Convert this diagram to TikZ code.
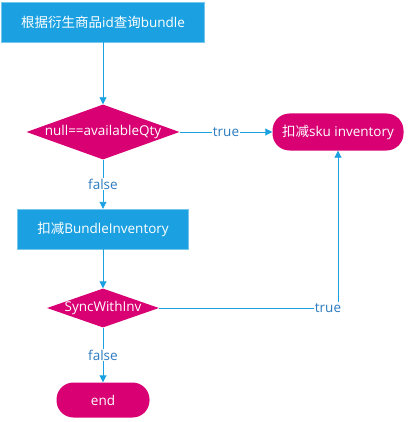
\documentclass[tikz,border=0pt]{standalone}
\usepackage{fontspec}
\setmainfont{Open Sans}
\newfontfamily\cjk{Noto Sans CJK SC}
\usepackage{tikz}
\usetikzlibrary{shapes.geometric, arrows.meta}
\usepackage{xcolor}

\definecolor{flowblue}{HTML}{1BA1E2}
\definecolor{flowpink}{HTML}{D80073}
\definecolor{labelblue}{HTML}{2C7BC0}

\begin{document}
\begin{tikzpicture}[x=1pt, y=-1pt, font=\fontsize{13.5}{16}\selectfont,
    process/.style={rectangle, fill=flowblue, draw=flowblue!60!white, text=white, inner sep=0pt},
    decision/.style={diamond, fill=flowpink, text=white, inner sep=-1.5pt, aspect=2.8},
    terminal/.style={rectangle, rounded corners=17pt, fill=flowpink, text=white, inner sep=0pt},
    flow/.style={draw=flowblue, line width=0.9pt, -{Triangle[length=7pt,width=7pt]}},
    flowlabel/.style={fill=white, text=labelblue, inner sep=1pt}]

    % Fix the page to the reference size
    \useasboundingbox (0,0) rectangle (407,422);

    % Steps of the flow
    \node[process, minimum width=203pt, minimum height=40pt] (query) at (103,22) {{\cjk 根据衍生商品}id{\cjk 查询}bundle};
    \node[decision, minimum width=153pt, minimum height=55pt] (qty) at (103,132) {null==availableQty};
    \node[terminal, minimum width=131pt, minimum height=37pt] (sku) at (338,132) {{\cjk 扣减}sku inventory};
    \node[process, minimum width=171pt, minimum height=40pt] (bundle) at (103,229) {{\cjk 扣减}BundleInventory};
    \node[decision, minimum width=112pt, minimum height=39pt] (sync) at (103,308) {SyncWithInv};
    \node[terminal, minimum width=93pt, minimum height=35pt] (finish) at (103,400) {end};

    % Connectors
    \draw[flow] (query) -- (qty);
    \draw[flow] (qty) -- node[flowlabel] {true} (sku);
    \draw[flow] (qty) -- node[flowlabel] {false} (bundle);
    \draw[flow] (bundle) -- (sync);
    \draw[flow] (sync) -| node[flowlabel, pos=0.5, xshift=-10pt] {true} (sku);
    \draw[flow] (sync) -- node[flowlabel] {false} (finish);
\end{tikzpicture}
\end{document}
